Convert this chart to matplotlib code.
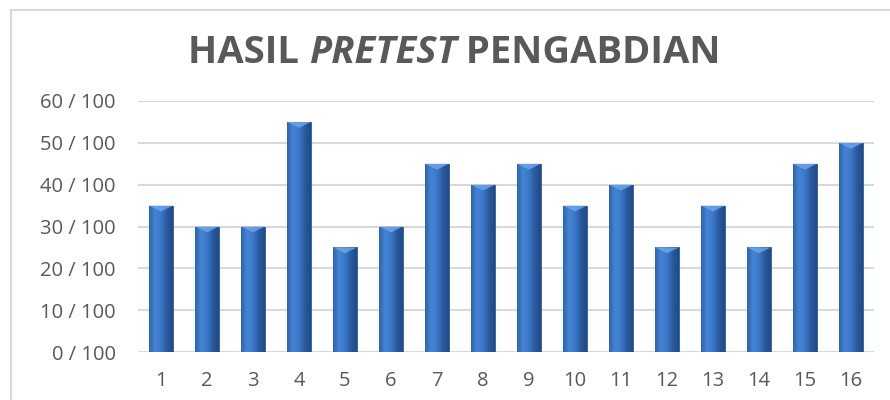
import numpy as np
import matplotlib
matplotlib.use('Agg')
import matplotlib.pyplot as plt
from matplotlib.patches import Rectangle, Polygon
from matplotlib.colors import LinearSegmentedColormap

# data
peserta = list(range(1, 17))
nilai = [35, 30, 30, 55, 25, 30, 45, 40, 45, 35, 40, 25, 35, 25, 45, 50]
y_ticks = [0, 10, 20, 30, 40, 50, 60]
y_labels = ['%d / 100' % v for v in y_ticks]

plt.rcParams['font.family'] = ['Open Sans', 'DejaVu Sans']

fig = plt.figure(figsize=(8.9, 4), dpi=100)
fig.patches.append(Rectangle((11 / 890, -0.1), 1.1, 1.1 - 10 / 400,
                             transform=fig.transFigure, fill=False,
                             edgecolor='#D9D9D9', linewidth=1.5))

ax = fig.add_axes([138 / 890, 48 / 400, 736 / 890, 251 / 400])

bar_width = 0.52
# gradient across each bar (left light, right dark)
cmap = LinearSegmentedColormap.from_list('bev', ['#2E64AE', '#4584D4', '#3B78C8', '#2A5A9E', '#1F4A86'])
grad = np.linspace(0, 1, 64).reshape(1, -1)

bars = ax.bar(peserta, nilai, bar_width, color='#3A75C4', edgecolor='#2A5A9E',
              linewidth=0.6, zorder=2)
for b, x, v in zip(bars, peserta, nilai):
    im = ax.imshow(grad, cmap=cmap, aspect='auto', zorder=3,
                   extent=(x - bar_width / 2, x + bar_width / 2, 0, v))
    im.set_clip_path(b)
    # light chevron at the top
    d = 1.4
    tri = Polygon([(x - bar_width / 2, v), (x + bar_width / 2, v), (x, v - d)],
                  closed=True, facecolor='#6FA3E6', edgecolor='none', alpha=0.85, zorder=4)
    ax.add_patch(tri)

ax.set_xlim(0.5, 16.5)
ax.set_ylim(0, 60)
ax.set_xticks(peserta)
ax.set_yticks(y_ticks)
ax.set_yticklabels(y_labels)
ax.tick_params(axis='both', length=0, labelsize=14.5, colors='#595959')
ax.tick_params(axis='x', pad=14)
ax.tick_params(axis='y', pad=16)
for s in ax.spines.values():
    s.set_visible(False)
ax.grid(axis='y', color='#D9D9D9', linewidth=1.5, zorder=0)
ax.set_axisbelow(True)

# title with italic middle word
t1 = fig.text(188 / 890, 337 / 400, 'HASIL ', fontsize=27.5, fontweight='bold',
              color='#595959', va='baseline', ha='left')
t2 = ax.annotate('PRETEST', xy=(1, 0), xycoords=t1, fontsize=27.5, fontweight='bold',
                 fontstyle='italic', color='#595959', va='bottom', ha='left',
                 annotation_clip=False)
t3 = ax.annotate(' PENGABDIAN', xy=(1, 0), xycoords=t2, fontsize=27.5, fontweight='bold',
                 color='#595959', va='bottom', ha='left', annotation_clip=False)

fig.savefig('out.png', dpi=100)
